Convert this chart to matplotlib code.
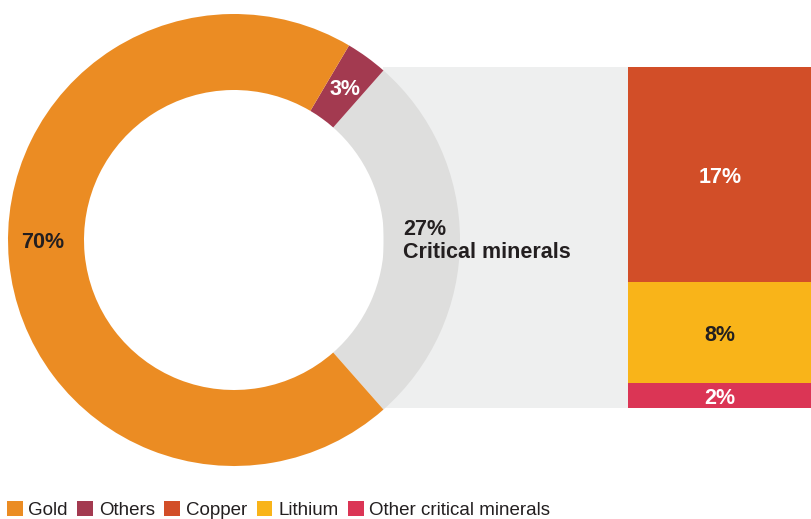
import matplotlib.pyplot as plt
import numpy as np
from matplotlib.patches import Patch, Rectangle

plt.rcParams["font.family"] = ["Liberation Sans", "DejaVu Sans"]

# ---- Data ----
donut_labels = ["Critical minerals", "Others", "Gold"]
donut_values = [27, 3, 70]
donut_colors = ["#DEDEDD", "#A33A50", "#EB8C23"]

bar_labels = ["Other critical minerals", "Lithium", "Copper"]
bar_values = [2, 8, 17]
bar_colors = ["#DB3555", "#F9B419", "#D24E28"]
bar_text_colors = ["white", "#231F20", "white"]

legend_labels = ["Gold", "Others", "Copper", "Lithium", "Other critical minerals"]
legend_colors = ["#EB8C23", "#A33A50", "#D24E28", "#F9B419", "#DB3555"]

DARK = "#231F20"
W, H = 812, 519
FS = 15.5

fig = plt.figure(figsize=(W / 100, H / 100), dpi=100)
ax = fig.add_axes([0, 0, 1, 1])

# ---- Donut ----
cx, cy, R, ring = 234, 279, 226, 76
crit_angle = donut_values[0] / sum(donut_values) * 360
start = -crit_angle / 2
ax.pie(donut_values, colors=donut_colors, startangle=start, counterclock=True,
       center=(cx, cy), radius=R, frame=True,
       wedgeprops=dict(width=ring, linewidth=0), normalize=True)
ax.set_xlim(0, W)
ax.set_ylim(0, H)
ax.set_aspect("equal")
ax.axis("off")

# ---- Stacked bar ----
bar_x0, bar_x1 = 628, 812
bar_top, bar_bot = H - 67, H - 408
scale = (bar_top - bar_bot) / sum(bar_values)
bottom = bar_bot
for v, c, tc in zip(bar_values, bar_colors, bar_text_colors):
    ax.bar((bar_x0 + bar_x1) / 2, v * scale, bottom=bottom, width=bar_x1 - bar_x0,
           color=c, linewidth=0, zorder=3)
    ax.text((bar_x0 + bar_x1) / 2, bottom + v * scale / 2 - 3, f"{v}%", ha="center",
            va="center", color=tc, fontsize=FS, fontweight="bold", zorder=4)
    bottom += v * scale

# connector band behind donut
left = cx + R * np.cos(np.radians(crit_angle / 2))
ax.add_patch(Rectangle((left, bar_bot), bar_x0 - left, bar_top - bar_bot,
                       color="#EEEFEF", linewidth=0, zorder=0))

# ---- Donut labels ----
mid_r = R - ring / 2
ax.text(cx - mid_r - 3, cy - 2, f"{donut_values[2]}%", ha="center", va="center",
        color=DARK, fontsize=FS, fontweight="bold")
a_oth = np.radians(crit_angle / 2 + donut_values[1] / 100 * 180)
ax.text(cx + mid_r * np.cos(a_oth) + 1, cy + mid_r * np.sin(a_oth) - 2,
        f"{donut_values[1]}%", ha="center", va="center", color="white",
        fontsize=FS, fontweight="bold")
ax.text(403, cy - 1, f"{donut_values[0]}%\n{donut_labels[0]}", ha="left", va="center",
        color=DARK, fontsize=FS, fontweight="bold", linespacing=1.15)

# ---- Legend ----
handles = [Patch(facecolor=c, label=l) for l, c in zip(legend_labels, legend_colors)]
fig.legend(handles=handles, loc="lower left", bbox_to_anchor=(6 / W, -1 / H), ncol=5,
           frameon=False, fontsize=13.5, handlelength=0.85, handleheight=0.85,
           handletextpad=0.3, columnspacing=0.5, borderaxespad=0.0,
           borderpad=0.05, labelcolor=DARK)

fig.savefig("out.png", dpi=100)
